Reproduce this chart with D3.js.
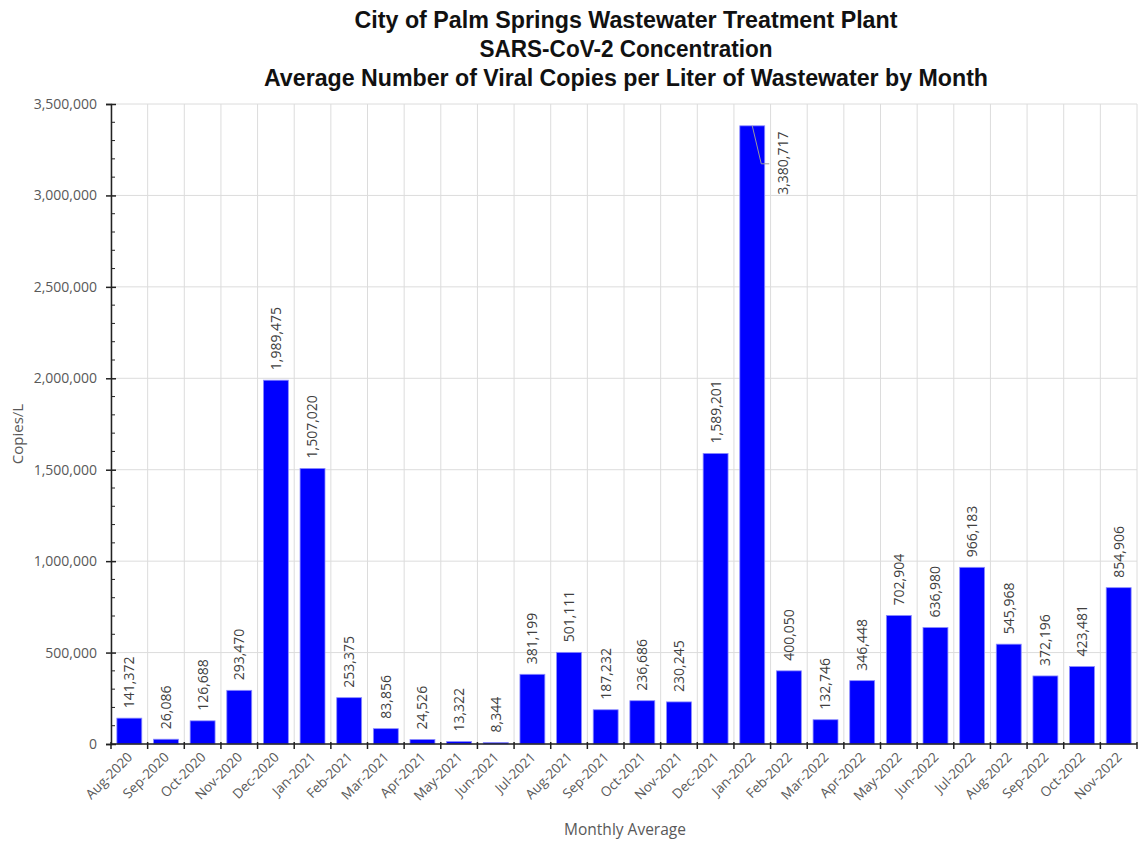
<!DOCTYPE html>
<html>
<head>
<meta charset="utf-8">
<script src="https://cdn.jsdelivr.net/npm/d3@7"></script>
<style>
body { margin: 0; background: #fff; }
.tick text { font-family: "Open Sans", sans-serif; }
</style>
</head>
<body>
<div id="chart"></div>
<script>
// chart data
const months = ["Aug-2020", "Sep-2020", "Oct-2020", "Nov-2020", "Dec-2020", "Jan-2021",
  "Feb-2021", "Mar-2021", "Apr-2021", "May-2021", "Jun-2021", "Jul-2021", "Aug-2021",
  "Sep-2021", "Oct-2021", "Nov-2021", "Dec-2021", "Jan-2022", "Feb-2022", "Mar-2022",
  "Apr-2022", "May-2022", "Jun-2022", "Jul-2022", "Aug-2022", "Sep-2022", "Oct-2022", "Nov-2022"];

const copiesPerLiter = [141372, 26086, 126688, 293470, 1989475, 1507020,
  253375, 83856, 24526, 13322, 8344, 381199, 501111,
  187232, 236686, 230245, 1589201, 3380717, 400050, 132746,
  346448, 702904, 636980, 966183, 545968, 372196, 423481, 854906];

const yTicks = [0, 500000, 1000000, 1500000, 2000000, 2500000, 3000000, 3500000];

const titleLines = ["City of Palm Springs Wastewater Treatment Plant",
  "SARS-CoV-2 Concentration",
  "Average Number of Viral Copies per Liter of Wastewater by Month"];

const
svgWidth = 1138,
svgHeight = 842;

const margin = {
  top: 104,
  right: 1,
  bottom: 98,
  left: 111
};

const width = svgWidth - margin.left - margin.right;
const height = svgHeight - margin.top - margin.bottom;

const svg = d3.select("#chart")
  .append("svg")
  .attr("width", svgWidth)
  .attr("height", svgHeight);

const chartGroup = svg.append("g")
  .attr("transform", `translate(${margin.left}, ${margin.top})`);

const data = months.map((m, i) => ({ month: m, value: copiesPerLiter[i] }));

const xScale = d3.scaleBand()
  .domain(months)
  .range([0, width])
  .paddingInner(0.32)
  .paddingOuter(0.16);

const yScale = d3.scaleLinear()
  .domain([0, 3500000])
  .range([height, 0]);

const step = xScale.step();
const fmt = d3.format(",");

// title
svg.append("g")
  .selectAll("text")
  .data(titleLines)
  .enter()
  .append("text")
  .attr("x", 626)
  .attr("y", (d, i) => 28 + i * 29)
  .attr("text-anchor", "middle")
  .style("font-family", "'Liberation Sans Narrow', sans-serif")
  .style("font-weight", "bold")
  .style("font-size", "23px")
  .attr("fill", "#111")
  .attr("textLength", (d, i) => [543, 293, 724][i])
  .attr("lengthAdjust", "spacingAndGlyphs")
  .text(d => d);

// gridlines
chartGroup.append("g")
  .selectAll("line")
  .data(yTicks)
  .enter()
  .append("line")
  .attr("x1", 0)
  .attr("x2", width)
  .attr("y1", d => yScale(d))
  .attr("y2", d => yScale(d))
  .attr("stroke", "#dcdcdc");

chartGroup.append("g")
  .selectAll("line")
  .data(d3.range(months.length + 1))
  .enter()
  .append("line")
  .attr("x1", d => d * step)
  .attr("x2", d => d * step)
  .attr("y1", 0)
  .attr("y2", height)
  .attr("stroke", "#dcdcdc");

// bars
chartGroup.selectAll("rect")
  .data(data)
  .enter()
  .append("rect")
  .attr("x", d => xScale(d.month))
  .attr("y", d => yScale(d.value))
  .attr("width", xScale.bandwidth())
  .attr("height", d => height - yScale(d.value))
  .attr("fill", "#0000ff")
  .attr("stroke", "#8c8cff")
  .attr("stroke-width", 0.8);

// value labels
const peak = d3.max(copiesPerLiter);

chartGroup.append("g")
  .selectAll("text")
  .data(data)
  .enter()
  .append("text")
  .attr("transform", d => {
    const cx = xScale(d.month) + xScale.bandwidth() / 2;
    const top = yScale(d.value);
    if (d.value === peak) return `translate(${cx + 31}, ${top + 69}) rotate(-90)`;
    return `translate(${cx}, ${top - 10}) rotate(-90)`;
  })
  .attr("dy", "0.35em")
  .style("font-family", "'Open Sans', sans-serif")
  .style("font-size", "14px")
  .attr("fill", "#404040")
  .text(d => fmt(d.value));

// leader line for the tallest bar
const peakRow = data.find(d => d.value === peak);
const pcx = xScale(peakRow.month) + xScale.bandwidth() / 2;
const ptop = yScale(peakRow.value);
chartGroup.append("polyline")
  .attr("points", `${pcx},${ptop} ${pcx + 9},${ptop + 38} ${pcx + 17},${ptop + 38}`)
  .attr("fill", "none")
  .attr("stroke", "#9a9a9a")
  .attr("stroke-width", 1);

// y axis
const leftAxis = d3.axisLeft(yScale)
  .tickValues(yTicks)
  .tickFormat(fmt)
  .tickSize(5)
  .tickPadding(9);

const yAxis = chartGroup.append("g")
  .call(leftAxis);

yAxis.selectAll(".tick line").attr("x2", 5).attr("x1", -5);

// minor ticks
chartGroup.append("g")
  .selectAll("line")
  .data(d3.range(0, 3500001, 100000).filter(v => v % 500000 !== 0))
  .enter()
  .append("line")
  .attr("x1", 0)
  .attr("x2", 4)
  .attr("y1", d => yScale(d))
  .attr("y2", d => yScale(d))
  .attr("stroke", "#222");

// x axis
const xAxisGroup = chartGroup.append("g")
  .attr("transform", `translate(0, ${height})`);

xAxisGroup.append("line")
  .attr("x1", 0)
  .attr("x2", width)
  .attr("stroke", "#222")
  .attr("stroke-width", 1.5);

xAxisGroup.selectAll("line.xt")
  .data(d3.range(months.length + 1))
  .enter()
  .append("line")
  .attr("class", "xt")
  .attr("x1", d => d * step)
  .attr("x2", d => d * step)
  .attr("y1", -2)
  .attr("y2", 5)
  .attr("stroke", "#222")
  .attr("stroke-width", 1.5);

xAxisGroup.selectAll("text")
  .data(months)
  .enter()
  .append("text")
  .attr("transform", d => `translate(${xScale(d) + xScale.bandwidth() / 2 + 4}, 14) rotate(-45)`)
  .attr("text-anchor", "end")
  .style("font-family", "'Open Sans', sans-serif")
  .style("font-size", "13.5px")
  .attr("fill", "#595959")
  .text(d => d);

yAxis.select(".domain").attr("stroke", "#222").attr("stroke-width", 1.5);
yAxis.selectAll(".tick line").attr("stroke", "#222").attr("stroke-width", 1.5);
yAxis.selectAll("text")
  .style("font-size", "14px")
  .attr("fill", "#595959");

// axis titles
svg.append("text")
  .attr("x", 625)
  .attr("y", 835)
  .attr("text-anchor", "middle")
  .style("font-family", "'Open Sans', sans-serif")
  .style("font-size", "15.5px")
  .attr("fill", "#595959")
  .text("Monthly Average");

svg.append("text")
  .attr("transform", "translate(23, 434) rotate(-90)")
  .attr("text-anchor", "middle")
  .style("font-family", "'Open Sans', sans-serif")
  .style("font-size", "15px")
  .attr("fill", "#595959")
  .text("Copies/L");
</script>
</body>
</html>
